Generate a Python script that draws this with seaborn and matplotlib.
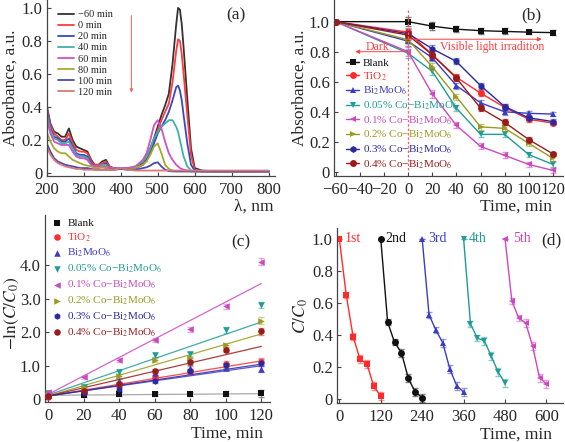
import numpy as np
import pandas as pd
import matplotlib
matplotlib.use("Agg")
import matplotlib.pyplot as plt
import seaborn as sns
from matplotlib.ticker import FuncFormatter

# ---------------- data ----------------
# (a) UV-vis spectra
wl = [200, 210, 220, 230, 240, 250, 260, 270, 280, 290, 300, 310, 320, 330, 340, 350, 360, 370, 380,
      400, 420, 440, 460,
      470, 480, 490, 500, 510, 520, 530, 540, 550,
      555, 560, 565, 570,
      580, 590, 600,
      620, 650, 700, 750, 800]
spec_labels = ["\u221260 min", "0 min", "20 min", "40 min", "60 min", "80 min", "100 min", "120 min"]
spec_m60 = [0.41, 0.30, 0.25, 0.24, 0.22, 0.22, 0.27, 0.20, 0.16, 0.15, 0.14, 0.13, 0.08, 0.05, 0.05, 0.07, 0.08, 0.04, 0.03,
            0.03, 0.03, 0.03, 0.06,
            0.10, 0.15, 0.21, 0.28, 0.35, 0.41, 0.48, 0.66, 0.90,
            1.00, 0.99, 0.90, 0.76,
            0.45, 0.15, 0.03,
            0.015, 0.01, 0.01, 0.01, 0.01]
spec_0 = [0.40, 0.29, 0.24, 0.22, 0.20, 0.20, 0.24, 0.18, 0.14, 0.13, 0.13, 0.12, 0.07, 0.05, 0.05, 0.06, 0.07, 0.04, 0.03,
          0.03, 0.03, 0.03, 0.05,
          0.09, 0.14, 0.19, 0.26, 0.32, 0.37, 0.42, 0.55, 0.74,
          0.81, 0.80, 0.72, 0.60,
          0.35, 0.11, 0.02,
          0.01, 0.01, 0.01, 0.01, 0.01]
spec_20 = [0.38, 0.27, 0.22, 0.21, 0.19, 0.19, 0.21, 0.16, 0.12, 0.11, 0.11, 0.10, 0.06, 0.04, 0.04, 0.05, 0.06, 0.03, 0.03,
           0.03, 0.03, 0.03, 0.05,
           0.08, 0.12, 0.18, 0.24, 0.28, 0.32, 0.37, 0.44, 0.52,
           0.53, 0.50, 0.44, 0.35,
           0.18, 0.05, 0.015,
           0.01, 0.01, 0.01, 0.01, 0.01]
spec_40 = [0.36, 0.26, 0.21, 0.20, 0.18, 0.18, 0.19, 0.15, 0.11, 0.10, 0.10, 0.09, 0.05, 0.04, 0.04, 0.05, 0.05, 0.03, 0.03,
           0.03, 0.03, 0.04, 0.07,
           0.10, 0.15, 0.21, 0.25, 0.28, 0.30, 0.32, 0.32, 0.28,
           0.25, 0.20, 0.15, 0.10,
           0.04, 0.015, 0.01,
           0.01, 0.01, 0.01, 0.01, 0.01]
spec_60 = [0.33, 0.24, 0.19, 0.18, 0.17, 0.17, 0.17, 0.13, 0.10, 0.09, 0.09, 0.08, 0.05, 0.04, 0.04, 0.04, 0.04, 0.03, 0.03,
           0.03, 0.03, 0.04, 0.08,
           0.12, 0.20, 0.29, 0.32, 0.27, 0.19, 0.12, 0.08, 0.05,
           0.04, 0.03, 0.025, 0.02,
           0.015, 0.01, 0.01,
           0.01, 0.01, 0.01, 0.01, 0.01]
spec_80 = [0.25, 0.19, 0.15, 0.13, 0.12, 0.12, 0.10, 0.08, 0.07, 0.06, 0.05, 0.045, 0.04, 0.03, 0.03, 0.035, 0.03, 0.02, 0.02,
           0.025, 0.02, 0.03, 0.05,
           0.07, 0.11, 0.16, 0.18, 0.12, 0.05, 0.025, 0.015, 0.01,
           0.01, 0.01, 0.01, 0.01,
           0.01, 0.01, 0.01,
           0.01, 0.01, 0.01, 0.01, 0.01]
spec_100 = [0.18, 0.13, 0.09, 0.07, 0.06, 0.05, 0.045, 0.04, 0.035, 0.03, 0.03, 0.03, 0.025, 0.02, 0.02, 0.02, 0.02, 0.02, 0.02,
            0.025, 0.02, 0.02, 0.03,
            0.035, 0.045, 0.06, 0.065, 0.04, 0.02, 0.012, 0.01, 0.01,
            0.01, 0.01, 0.01, 0.01,
            0.01, 0.01, 0.01,
            0.01, 0.01, 0.01, 0.01, 0.01]
spec_120 = [0.16, 0.11, 0.08, 0.06, 0.05, 0.04, 0.035, 0.03, 0.025, 0.025, 0.02, 0.02, 0.02, 0.02, 0.02, 0.02, 0.02, 0.02, 0.02,
            0.03, 0.02, 0.015, 0.015,
            0.015, 0.015, 0.015, 0.015, 0.015, 0.015, 0.015, 0.015, 0.015,
            0.015, 0.015, 0.015, 0.015,
            0.015, 0.015, 0.015,
            0.015, 0.015, 0.015, 0.015, 0.015]
spec_colors = ["#333333", "#ff3b3b", "#3a48c0", "#3fb0a8", "#d050c8", "#a8a830", "#4a4ab0", "#d87878"]

# (b) absorbance vs time
time_b = [-60, 0, 20, 40, 60, 80, 100, 120]
samples = ["Blank", "TiO$_2$", "Bi$_2$MoO$_6$", "0.05% Co\u2212Bi$_2$MoO$_6$", "0.1% Co\u2212Bi$_2$MoO$_6$",
           "0.2% Co\u2212Bi$_2$MoO$_6$", "0.3% Co\u2212Bi$_2$MoO$_6$", "0.4% Co\u2212Bi$_2$MoO$_6$"]
sample_colors = ["#111111", "#ff2a2a", "#3c3cc0", "#1f9c96", "#cc48c0", "#9a9a1e", "#2a2aa0", "#991c1c"]
sample_markers = ["s", "o", "^", "v", "<", ">", "h", "o"]
abs_blank = [1.00, 1.00, 0.97, 0.95, 0.94, 0.935, 0.93, 0.927]
abs_tio2 = [1.00, 0.93, 0.78, 0.63, 0.525, 0.43, 0.35, 0.325]
abs_bmo = [1.00, 0.87, 0.76, 0.575, 0.46, 0.40, 0.39, 0.385]
abs_co005 = [1.00, 0.79, 0.67, 0.425, 0.25, 0.25, 0.115, 0.05]
abs_co01 = [1.00, 0.80, 0.52, 0.31, 0.17, 0.11, 0.05, 0.01]
abs_co02 = [1.00, 0.88, 0.70, 0.50, 0.30, 0.29, 0.19, 0.09]
abs_co03 = [1.00, 0.92, 0.82, 0.735, 0.575, 0.435, 0.36, 0.335]
abs_co04 = [1.00, 0.91, 0.78, 0.625, 0.425, 0.33, 0.215, 0.12]
abs_err = [0.0, 0.03, 0.025, 0.02, 0.02, 0.02, 0.015, 0.015]

# (c) -ln(C/C0) vs time with linear fits
time_c = [0, 20, 40, 60, 80, 100, 120]
ln_blank = [0.08, 0.13, 0.15, 0.16, 0.16, 0.17, 0.18]
ln_tio2 = [0.07, 0.25, 0.46, 0.64, 0.84, 1.05, 1.12]
ln_bmo = [0.14, 0.27, 0.55, 0.78, 0.92, 0.94, 0.90]
ln_co005 = [0.20, 0.38, 0.82, 1.32, 1.34, 2.06, 2.81]
ln_co01 = [0.22, 0.65, 1.16, 1.77, 2.08, 2.77, 4.10]
ln_co02 = [0.12, 0.36, 0.69, 1.17, 1.22, 1.61, 2.34]
ln_co03 = [0.09, 0.20, 0.31, 0.55, 0.83, 1.01, 1.09]
ln_co04 = [0.10, 0.25, 0.47, 0.84, 1.10, 1.48, 2.03]
ln_err = [0.04, 0.05, 0.06, 0.07, 0.07, 0.08, 0.1]
fit_slope = [0.0004, 0.0087, 0.0075, 0.0181, 0.0275, 0.0154, 0.0079, 0.0123]
fit_icpt = [0.12, 0.10, 0.10, 0.13, 0.15, 0.10, 0.10, 0.10]
fit_range = [0, 120]

# (d) recycling
cycle_labels = ["1st", "2nd", "3rd", "4th", "5th"]
cycle_colors = ["#ff2a2a", "#111111", "#3c3cc0", "#1f9c96", "#cc48c0"]
cycle_markers = ["s", "o", "^", "v", "<"]
cyc_t1 = [0, 20, 40, 60, 80, 100, 120]
cyc_t2 = [120, 140, 160, 180, 200, 220, 240]
cyc_t3 = [240, 260, 280, 300, 320, 340, 360]
cyc_t4 = [360, 380, 400, 420, 440, 460, 480]
cyc_t5 = [480, 500, 520, 540, 560, 580, 600]
cyc_v1 = [1.0, 0.65, 0.39, 0.25, 0.22, 0.08, 0.02]
cyc_v2 = [1.0, 0.48, 0.355, 0.29, 0.13, 0.045, 0.01]
cyc_v3 = [1.0, 0.525, 0.43, 0.35, 0.19, 0.085, 0.045]
cyc_v4 = [1.0, 0.47, 0.38, 0.365, 0.27, 0.17, 0.10]
cyc_v5 = [1.0, 0.61, 0.505, 0.475, 0.33, 0.135, 0.095]
cyc_err = [0.0, 0.02, 0.02, 0.025, 0.025, 0.025, 0.025]
cycle_label_x = [40, 165, 283, 402, 530]

# ---------------- style ----------------
sns.set_style("ticks")
plt.rcParams["font.family"] = ["Liberation Serif", "DejaVu Serif"]
plt.rcParams["mathtext.fontset"] = "stix"

W, H = 565, 442
fig = plt.figure(figsize=(W / 100, H / 100), dpi=100)


def add_ax(l, t, r, b):
    return fig.add_axes([l / W, 1 - b / H, (r - l) / W, (b - t) / H])


def px2ax(ax, x, y):
    p = ax.get_position()
    return ((x / W - p.x0) / p.width, ((1 - y / H) - p.y0) / p.height)


def style(ax):
    for s in ["top", "right"]:
        ax.spines[s].set_visible(False)
    for s in ["left", "bottom"]:
        ax.spines[s].set_color("#444444")
        ax.spines[s].set_linewidth(0.9)
    ax.tick_params(direction="in", length=3, width=0.8, color="#444444", labelsize=12, pad=3)
    ax.tick_params(axis="x", pad=4.5)


def fmt(v, pos):
    if abs(v) < 1e-9:
        return "0"
    return f"{v:.1f}"


def labels(ax, ylabel, yc, xlabel, xr, yx):
    ax.set_ylabel(ylabel, fontsize=12.5, va="center")
    ax.yaxis.set_label_coords(*px2ax(ax, yc[0], yc[1]))
    ax.set_xlabel(xlabel, fontsize=12.5, ha="right", va="center")
    ax.xaxis.set_label_coords(*px2ax(ax, xr, yx))


# ---------------- (a) ----------------
ax = add_ax(46.7, 0, 275, 176)
style(ax)
spectra = [spec_m60, spec_0, spec_20, spec_40, spec_60, spec_80, spec_100, spec_120]
for lab, vals, col in zip(spec_labels, spectra, spec_colors):
    sns.lineplot(x=wl, y=vals, ax=ax, color=col, lw=1.3, label=lab, sort=False)
ax.set_xlim(200, 817)
ax.set_ylim(-0.018, 1.048)
ax.set_xticks([200, 300, 400, 500, 600, 700, 800])
ax.set_yticks([0, 0.2, 0.4, 0.6, 0.8, 1.0])
ax.yaxis.set_major_formatter(FuncFormatter(fmt))
ax.annotate("", xy=(429, 0.47), xytext=(429, 0.97),
            arrowprops=dict(arrowstyle="-|>", color="#ff6060", lw=0.7, mutation_scale=5))
ax.legend(loc="upper left", bbox_to_anchor=(58 / W, 1 - 10 / H), bbox_transform=fig.transFigure,
          frameon=False, fontsize=7.5, handlelength=1.5, handletextpad=0.4, labelspacing=0.17,
          borderpad=0, borderaxespad=0)
labels(ax, "Absorbance, a.u.", (11, 88), "\u03bb, nm", 273, 207)
fig.text(236 / W, 1 - 15 / H, "(a)", ha="center", va="center", fontsize=12.5)

# ---------------- (b) ----------------
ax = add_ax(334, 0, 563, 176)
style(ax)
abs_series = [abs_blank, abs_tio2, abs_bmo, abs_co005, abs_co01, abs_co02, abs_co03, abs_co04]
for lab, vals, col, mk in zip(samples, abs_series, sample_colors, sample_markers):
    sns.lineplot(x=time_b, y=vals, ax=ax, color=col, lw=1.0, marker=mk, markersize=5,
                 markeredgewidth=0, label=lab, sort=False)
    ax.errorbar(time_b, vals, yerr=abs_err, fmt="none", ecolor=col, alpha=0.55, elinewidth=0.8, capsize=2)
ax.set_xlim(-61.3, 128.3)
ax.set_ylim(-0.027, 1.144)
ax.set_xticks([-60, -40, -20, 0, 20, 40, 60, 80, 100, 120])
ax.set_yticks([0, 0.2, 0.4, 0.6, 0.8, 1.0])
ax.yaxis.set_major_formatter(FuncFormatter(fmt))
ax.plot([0, 0], [0.01, 1.09], ls=(0, (2, 1.5)), color="#ff6060", lw=0.9)
red = "#ff4040"
ax.annotate("", xy=(-46, 0.80), xytext=(0, 0.80),
            arrowprops=dict(arrowstyle="-|>", color=red, lw=0.7, mutation_scale=6))
ax.annotate("", xy=(113, 0.883), xytext=(0, 0.883),
            arrowprops=dict(arrowstyle="-|>", color=red, lw=0.7, mutation_scale=6))
ax.text(-25, 0.834, "Dark", color=red, fontsize=8.5, ha="center", va="center")
ax.text(70, 0.834, "Visible light irradition", color=red, fontsize=8.5, ha="center", va="center")
ax.legend(loc="upper left", bbox_to_anchor=(346 / W, 1 - 58 / H), bbox_transform=fig.transFigure,
          frameon=False, fontsize=8, handlelength=1.2, handletextpad=0.3, labelspacing=0.2,
          borderpad=0, borderaxespad=0, labelcolor="linecolor")
labels(ax, "Absorbance, a.u.", (300, 88), "Time, min", 552, 207)
fig.text(531 / W, 1 - 15 / H, "(b)", ha="center", va="center", fontsize=12.5)

# ---------------- (c) ----------------
ax = add_ax(45, 215, 270, 402)
style(ax)
ln_series = [ln_blank, ln_tio2, ln_bmo, ln_co005, ln_co01, ln_co02, ln_co03, ln_co04]
for i, (lab, vals, col, mk) in enumerate(zip(samples, ln_series, sample_colors, sample_markers)):
    fit_y = [fit_icpt[i] + fit_slope[i] * t for t in fit_range]
    lcol = "#999999" if i == 0 else col
    sns.lineplot(x=fit_range, y=fit_y, ax=ax, color=lcol, lw=0.9, alpha=0.85, legend=False)
    ax.errorbar(time_c, vals, yerr=ln_err, fmt="none", ecolor=col, alpha=0.45, elinewidth=0.8, capsize=2)
    sns.scatterplot(x=time_c, y=vals, ax=ax, color=col, marker=mk, s=22, linewidth=0, label=lab, zorder=3)
ax.set_xlim(-1.86, 124.9)
ax.set_ylim(-0.08, 5.49)
ax.set_xticks([0, 20, 40, 60, 80, 100, 120])
ax.set_yticks([0, 1, 2, 3, 4])
ax.yaxis.set_major_formatter(FuncFormatter(fmt))
ax.legend(loc="upper left", bbox_to_anchor=(53 / W, 1 - 218 / H), bbox_transform=fig.transFigure,
          frameon=False, fontsize=8, handlelength=0.8, handletextpad=0.5, labelspacing=0.3,
          borderpad=0, borderaxespad=0, labelcolor="markerfacecolor", scatterpoints=1)
labels(ax, "$-\\ln(C/C_0)$", (11, 313), "Time, min", 263, 434)
fig.text(241 / W, 1 - 242 / H, "(c)", ha="center", va="center", fontsize=12.5)

# ---------------- (d) ----------------
ax = add_ax(337, 228, 563, 403)
style(ax)
cyc_t = [cyc_t1, cyc_t2, cyc_t3, cyc_t4, cyc_t5]
cyc_v = [cyc_v1, cyc_v2, cyc_v3, cyc_v4, cyc_v5]
for lab, t, v, col, mk, lx in zip(cycle_labels, cyc_t, cyc_v, cycle_colors, cycle_markers, cycle_label_x):
    ax.errorbar(t, v, yerr=cyc_err, fmt="none", ecolor=col, alpha=0.5, elinewidth=0.8, capsize=2)
    sns.lineplot(x=t, y=v, ax=ax, color=col, lw=1.0, marker=mk, markersize=5, markeredgewidth=0,
                 sort=False, legend=False)
    ax.text(lx, 1.0, lab, color=col, fontsize=10, ha="center", va="center")
ax.set_xlim(-6.7, 648)
ax.set_ylim(-0.023, 1.066)
ax.set_xticks([0, 120, 240, 360, 480, 600])
ax.set_yticks([0, 0.2, 0.4, 0.6, 0.8, 1.0])
ax.yaxis.set_major_formatter(FuncFormatter(fmt))
labels(ax, "$C/C_0$", (301, 316), "Time, min", 552, 435)
fig.text(551 / W, 1 - 240 / H, "(d)", ha="center", va="center", fontsize=12.5)

fig.savefig("out.png", dpi=100)
